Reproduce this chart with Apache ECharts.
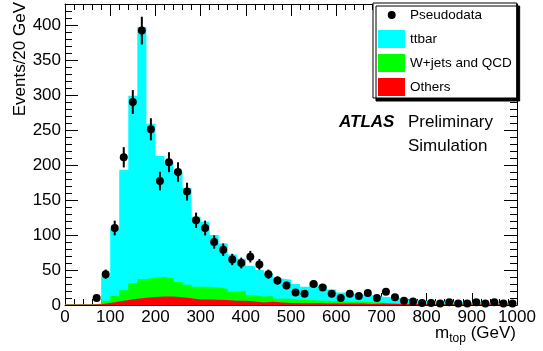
<!DOCTYPE html>
<html>
<head>
<meta charset="utf-8">
<script src="https://cdn.jsdelivr.net/npm/echarts@6/dist/echarts.min.js"></script>
<style>
  html, body { margin: 0; padding: 0; background: #fff; }
  #chart { width: 543px; height: 351px; }
</style>
</head>
<body>
<div id="chart"></div>
<script>
// Lower edges of the 20 GeV bins
const binLow = [0, 20, 40, 60, 80, 100, 120, 140, 160, 180,
  200, 220, 240, 260, 280, 300, 320, 340, 360, 380,
  400, 420, 440, 460, 480, 500, 520, 540, 560, 580,
  600, 620, 640, 660, 680, 700, 720, 740, 760, 780,
  800, 820, 840, 860, 880, 900, 920, 940, 960, 980];
const axisEnd = 1000;

// MC components, per bin (stack order: others, W+jets/QCD, ttbar)
const others = [0.7, 0.7, 0.7, 1, 3, 5, 7, 9, 10.5, 11.5,
  12, 12, 11, 9.5, 8, 8, 7.5, 7, 6, 6,
  5, 3.5, 4.5, 3.5, 3, 2.5, 2.5, 2.5, 2.3, 2.2,
  2, 2, 2, 1.5, 2, 1.8, 1.6, 1.5, 1.4, 1.3,
  1.2, 1.2, 1.1, 1, 1, 1, 0.9, 0.9, 0.8, 0.8];
const wjetsQcd = [0, 0, 0, 0.5, 3, 8, 14, 22, 26.5, 27.5,
  28, 26, 22, 19.5, 18, 18, 17.5, 16, 13, 14.5,
  9, 8.5, 8, 5.5, 6, 5, 4.5, 4, 3.7, 3.3,
  3, 2.8, 2.5, 2.5, 1.5, 1.2, 0.6, 0.5, 0.6, 0.5,
  0.4, 0.4, 0.4, 0.4, 0.4, 0.3, 0.3, 0.3, 0.3, 0.3];
const ttbar = [0, 0, 0, 0.5, 35, 96, 172, 268, 360, 220,
  173, 167, 157, 138, 100, 93, 75, 65, 53, 45.5,
  42, 38, 32.5, 29, 27, 22.5, 19, 25.5, 22, 16.5,
  13, 11, 10.5, 10, 8.5, 8, 7.8, 6, 4.5, 4.2,
  3.9, 3.4, 3, 2.6, 2.6, 2.2, 1.9, 1.8, 1.6, 1.4];

// Pseudodata: bin centres, counts and errors
const dataX = [70, 90, 110, 130, 150, 170, 190, 210, 230, 250,
  270, 290, 310, 330, 350, 370, 390, 410, 430, 450,
  470, 490, 510, 530, 550, 570, 590, 610, 630, 650,
  670, 690, 710, 730, 750, 770, 790, 810, 830, 850,
  870, 890, 910, 930, 950, 970, 990];
const dataY = [10, 44, 110, 211, 290, 392, 251, 177, 204, 190,
  162, 121, 110, 90, 79, 65, 60, 69, 58, 44,
  35, 28, 18, 16, 30, 25, 16, 10, 16, 13,
  17, 10, 19, 11, 6, 5, 3, 3, 2, 4,
  2, 2, 4, 2, 4, 2, 2];
const dataErr = [3.2, 6.6, 10.5, 14.5, 17, 19.8, 15.8, 13.3, 14.3, 13.8,
  12.7, 11, 10.5, 9.5, 8.9, 8.1, 7.7, 8.3, 7.6, 6.6,
  5.9, 5.3, 4.2, 4, 5.5, 5, 4, 3.2, 4, 3.6,
  4.1, 3.2, 4.4, 3.3, 2.4, 2.2, 1.7, 1.7, 1.4, 2,
  1.4, 1.4, 2, 1.4, 2, 1.4, 1.4];

const yTicks = { min: 0, max: 430, interval: 50 };
const xTicks = { min: 0, max: 1000, interval: 100 };

const FONT = '"Liberation Sans", Arial, Helvetica, sans-serif';
const chart = echarts.init(document.getElementById('chart'), null, { renderer: 'canvas' });

// THStack-style: cumulative sums drawn back to front, each filled from zero
const cumOthers = others.slice();
const cumWjets = others.map((v, i) => v + wjetsQcd[i]);
const cumTtbar = cumWjets.map((v, i) => v + ttbar[i]);

// stepped histogram; last point closes the final bin
const histData = (vals) => [...binLow.map((x, i) => [x, vals[i]]), [axisEnd, vals[vals.length - 1]]];

const histSeries = (name, vals, color, z) => ({
  type: 'line',
  name,
  step: 'end',
  data: histData(vals),
  color,
  symbol: 'none',
  lineStyle: { width: 0, color },
  areaStyle: { color, opacity: 1, origin: 'start' },
  z,
  silent: true,
});

const axisCommon = {
  axisLine: { show: true, onZero: false, lineStyle: { color: '#000', width: 1 } },
  axisTick: { show: true, inside: true, length: 12, lineStyle: { color: '#000', width: 1 } },
  minorTick: { show: true, splitNumber: 5, length: 6, lineStyle: { color: '#000', width: 1 } },
  splitLine: { show: false },
};

const option = {
  backgroundColor: '#fff',
  animation: false,
  grid: { left: 65, right: 26, top: 4, bottom: 46, containLabel: false },
  xAxis: [
    { type: 'value', position: 'bottom', ...xTicks, ...axisCommon,
      axisLabel: { color: '#000', fontSize: 17, fontFamily: FONT, margin: 4,
        formatter: (v) => String(v) } },
    { type: 'value', position: 'top', ...xTicks, ...axisCommon, axisLabel: { show: false } },
  ],
  yAxis: [
    { type: 'value', position: 'left', ...yTicks, ...axisCommon,
      axisTick: { ...axisCommon.axisTick, length: 13 },
      minorTick: { ...axisCommon.minorTick, length: 7 },
      axisLabel: { color: '#000', fontSize: 17, fontFamily: FONT, margin: 4, showMaxLabel: false } },
    { type: 'value', position: 'right', ...yTicks, ...axisCommon,
      axisTick: { ...axisCommon.axisTick, length: 13 },
      minorTick: { ...axisCommon.minorTick, length: 7 },
      axisLabel: { show: false } },
  ],
  legend: {
    orient: 'vertical',
    left: 373, top: 3,
    padding: [3, 5, 2, 5],
    itemWidth: 27, itemHeight: 18, itemGap: 6,
    backgroundColor: '#fff',
    borderColor: '#000', borderWidth: 1, borderRadius: 0,
    shadowColor: '#000', shadowBlur: 0, shadowOffsetX: 3, shadowOffsetY: 3,
    selectedMode: false,
    textStyle: { color: '#000', fontSize: 13.5, fontFamily: FONT },
    data: [
      { name: 'Pseudodata', icon: 'path://M0,0M27,18M9.7,9A4,4,0,1,1,17.7,9A4,4,0,1,1,9.7,9Z' },
      { name: 'ttbar', icon: 'rect' },
      { name: 'W+jets and QCD', icon: 'rect' },
      { name: 'Others', icon: 'rect' },
    ],
  },
  graphic: [
    { type: 'text', left: 339, top: 114, z: 10,
      style: { text: 'ATLAS', font: `italic bold 17px ${FONT}`, fill: '#000' } },
    { type: 'text', left: 408, top: 114, z: 10,
      style: { text: 'Preliminary', font: `17px ${FONT}`, fill: '#000' } },
    { type: 'text', left: 408, top: 138, z: 10,
      style: { text: 'Simulation', font: `17px ${FONT}`, fill: '#000' } },
    // y-axis title, reads bottom to top, ends at the frame top
    { type: 'text', x: 20, y: 2, rotation: Math.PI / 2, z: 10,
      style: { text: 'Events/20 GeV', font: `17px ${FONT}`, fill: '#000',
        textAlign: 'right', textVerticalAlign: 'middle' } },
    // x-axis title m_top (GeV)
    { type: 'text', x: 516, y: 333, z: 10,
      style: { text: '{m|m}{s|top}{g| (GeV)}', textAlign: 'right', textVerticalAlign: 'middle',
        rich: {
          m: { font: `17px ${FONT}`, fill: '#000' },
          s: { font: `12px ${FONT}`, fill: '#000', padding: [12, 0, 0, 0] },
          g: { font: `17px ${FONT}`, fill: '#000' },
        } } },
  ],
  series: [
    histSeries('ttbar', cumTtbar, '#00ffff', 2),
    histSeries('W+jets and QCD', cumWjets, '#00ff00', 3),
    histSeries('Others', cumOthers, '#ff0000', 4),
    {
      type: 'custom',
      name: 'Pseudodata',
      color: '#000',
      itemStyle: { color: '#000' },
      data: dataX.map((x, i) => [x, dataY[i], dataErr[i]]),
      encode: { x: 0, y: 1 },
      z: 5,
      silent: true,
      renderItem: (params, api) => {
        const x = api.value(0), y = api.value(1), e = api.value(2);
        const hi = api.coord([x, y + e]);
        const lo = api.coord([x, Math.max(0, y - e)]);
        const c = api.coord([x, y]);
        return {
          type: 'group',
          children: [
            { type: 'line', shape: { x1: hi[0], y1: hi[1], x2: lo[0], y2: lo[1] },
              style: { stroke: '#000', lineWidth: 2 } },
            { type: 'circle', shape: { cx: c[0], cy: c[1], r: 4 }, style: { fill: '#000' } },
          ],
        };
      },
    },
  ],
};

chart.setOption(option);
</script>
</body>
</html>
